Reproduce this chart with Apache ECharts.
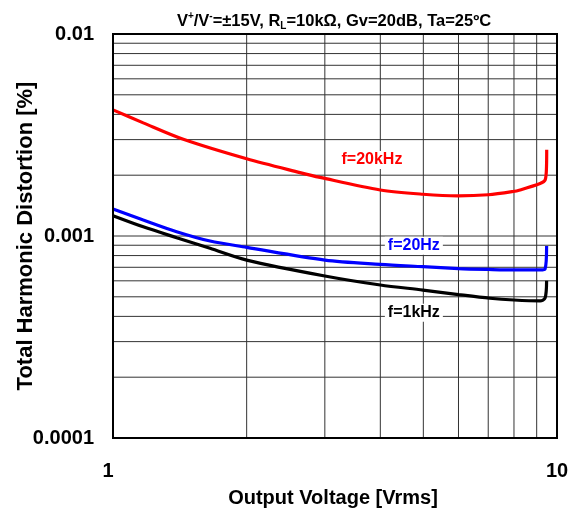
<!DOCTYPE html>
<html>
<head>
<meta charset="utf-8">
<script src="https://cdn.jsdelivr.net/npm/echarts@6/dist/echarts.min.js"></script>
<style>
html,body{margin:0;padding:0;background:#fff;}
#c{width:577px;height:510px;}
</style>
</head>
<body>
<div id="c"></div>
<script>
// ---- data ----
const seriesNames = ['f=20kHz', 'f=20Hz', 'f=1kHz'];
const seriesColors = ['#ff0000', '#0000ff', '#000000'];
const red20k = [
  [1.000, 0.00421], [1.170, 0.00363], [1.440, 0.00301], [2.000, 0.00241], [2.637, 0.00206],
  [2.927, 0.00195], [4.000, 0.00169], [4.990, 0.00161], [5.980, 0.00158], [7.000, 0.00160],
  [7.960, 0.00166], [8.254, 0.00169], [9.160, 0.00182], [9.400, 0.00189], [9.470, 0.00220],
  [9.480, 0.00267]
];
const blue20 = [
  [1.000, 0.00136], [1.170, 0.00120], [1.391, 0.00105], [1.654, 0.000944], [2.000, 0.000879],
  [3.002, 0.000760], [3.995, 0.000724], [4.990, 0.000705], [6.000, 0.000690], [7.000, 0.000683],
  [8.000, 0.000679], [9.160, 0.000679], [9.400, 0.000687], [9.475, 0.000892]
];
const black1k = [
  [1.000, 0.00126], [1.170, 0.00111], [1.391, 0.000981], [1.654, 0.000869], [2.000, 0.000760],
  [3.000, 0.000634], [4.000, 0.000572], [4.990, 0.000540], [6.000, 0.000513], [7.060, 0.000492],
  [8.000, 0.000482], [9.160, 0.000477], [9.400, 0.000493], [9.475, 0.000601]
];
const seriesData = [red20k, blue20, black1k];
const labelPos = [[3.83, 0.00238], [4.76, 0.000896], [4.76, 0.000417]];
const xTickLabels = {1: '{one|1}', 10: '10'};
const yTickLabels = {0.0001: '0.0001', 0.001: '0.001', 0.01: '0.01'};
const xRange = [1, 10];
const yRange = [0.0001, 0.01];
const xGrid = [2, 3, 4, 5, 6, 7, 8, 9];
const yGrid = [0.0002, 0.0003, 0.0004, 0.0005, 0.0006, 0.0007, 0.0008, 0.0009, 0.001,
               0.002, 0.003, 0.004, 0.005, 0.006, 0.007, 0.008, 0.009];
const titleText = 'V{sup|+}/V{sup|-}=±15V, R{sub|L}=10kΩ, Gv=20dB, Ta=25ºC';

// ---- chart ----
const chart = echarts.init(document.getElementById('c'), null, {renderer: 'canvas'});
const FONT = '"Liberation Sans", Arial, sans-serif';

function fmtTick(map) {
  return function (v) {
    for (const k in map) {
      if (Math.abs(Math.log10(v) - Math.log10(+k)) < 1e-6) return map[k];
    }
    return '';
  };
}

const gridStyle = {color: '#333', width: 1, type: 'solid'};
const gridSeries = []
  .concat(xGrid.map(v => ({
    type: 'line', data: [[v, yRange[0]], [v, yRange[1]]], silent: true, symbol: 'none',
    lineStyle: gridStyle, z: 1
  })))
  .concat(yGrid.map(v => ({
    type: 'line', data: [[xRange[0], v], [xRange[1], v]], silent: true, symbol: 'none',
    lineStyle: gridStyle, z: 1
  })));

const curves = seriesData.map((d, i) => ({
  type: 'line', name: seriesNames[i], data: d, showSymbol: false, symbol: 'none',
  smooth: 0.3,
  lineStyle: {color: seriesColors[i], width: 3.2}, z: 5,
  markPoint: {
    symbol: 'circle', symbolSize: 0, silent: true, animation: false,
    label: {
      show: true, formatter: seriesNames[i], color: seriesColors[i],
      fontFamily: FONT, fontWeight: 'bold', fontSize: 16,
      backgroundColor: '#fff', padding: [1, 3], position: 'inside'
    },
    data: [{coord: labelPos[i]}]
  }
}));

chart.setOption({
  animation: false,
  backgroundColor: '#fff',
  title: {
    text: titleText, left: 329, top: 6, textAlign: 'center',
    textStyle: {
      fontFamily: FONT, fontWeight: 'bold', fontSize: 16.5, color: '#000', lineHeight: 20,
      rich: {
        sup: {fontFamily: FONT, fontWeight: 'bold', fontSize: 10, verticalAlign: 'top', lineHeight: 20, padding: [0, 0, 8, 0]},
        sub: {fontFamily: FONT, fontWeight: 'bold', fontSize: 10, verticalAlign: 'bottom', lineHeight: 20, padding: [7, 0, 0, 0]}
      }
    }
  },
  grid: {
    left: 113, right: 20, top: 34, bottom: 72, show: true, borderColor: '#000', borderWidth: 2,
    backgroundColor: 'transparent', z: 10, containLabel: false, outerBoundsMode: 'none'
  },
  xAxis: {
    type: 'log', logBase: 10, min: xRange[0], max: xRange[1],
    name: 'Output Voltage [Vrms]', nameLocation: 'middle', nameGap: 50, nameMoveOverlap: false,
    nameTextStyle: {fontFamily: FONT, fontWeight: 'bold', fontSize: 20, color: '#000', padding: [0, 4, 0, 0]},
    axisLine: {show: true, lineStyle: {color: '#000', width: 2}},
    axisTick: {show: false},
    splitLine: {show: false},
    axisLabel: {
      margin: 23, fontFamily: FONT, fontWeight: 'bold', fontSize: 20, color: '#000',
      formatter: fmtTick(xTickLabels),
      rich: {one: {fontFamily: FONT, fontWeight: 'bold', fontSize: 20, color: '#000', padding: [0, 10, 0, 0]}}
    }
  },
  yAxis: {
    type: 'log', logBase: 10, min: yRange[0], max: yRange[1],
    name: 'Total Harmonic Distortion [%]', nameLocation: 'middle', nameGap: 76, nameRotate: 90,
    nameMoveOverlap: false,
    nameTextStyle: {fontFamily: FONT, fontWeight: 'bold', fontSize: 22, color: '#000'},
    axisLine: {show: true, lineStyle: {color: '#000', width: 2}},
    axisTick: {show: false},
    splitLine: {show: false},
    axisLabel: {margin: 19, fontFamily: FONT, fontWeight: 'bold', fontSize: 20, color: '#000', formatter: fmtTick(yTickLabels)}
  },
  series: gridSeries.concat(curves)
});
</script>
</body>
</html>
